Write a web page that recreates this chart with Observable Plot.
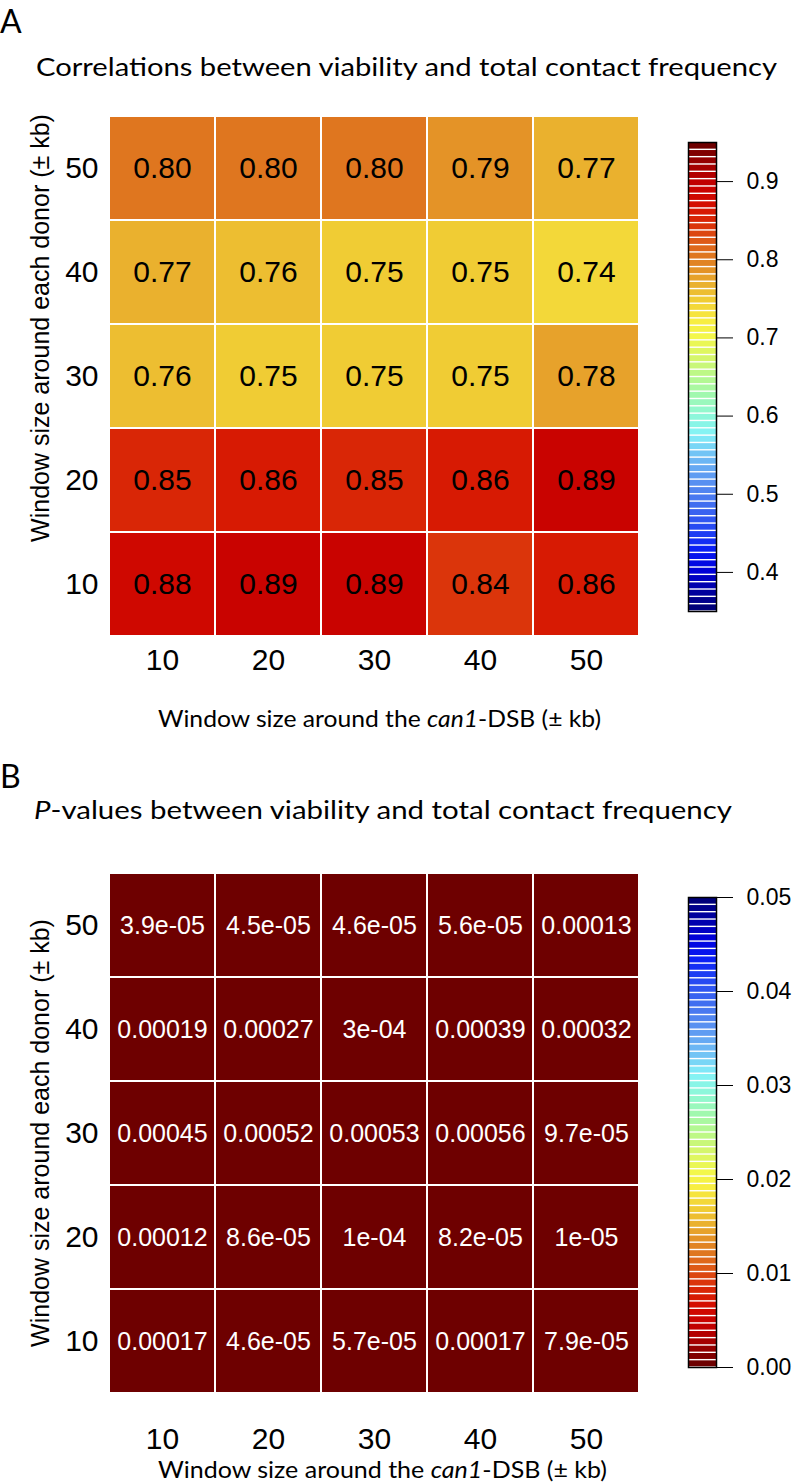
<!DOCTYPE html>
<html><head><meta charset="utf-8">
<script src="https://cdn.jsdelivr.net/npm/d3@7"></script>
<script src="https://cdn.jsdelivr.net/npm/@observablehq/plot@0.6"></script>
<style>
body{margin:0;background:#fff;}
#page{position:relative;width:799px;height:1484px;overflow:hidden;background:#fff;}
#page svg{position:absolute;}
</style></head><body><div id="page"></div>
<script>
// ---------- data ----------
const xWindows = [10, 20, 30, 40, 50];          // window around can1-DSB (± kb)
const yWindows = [50, 40, 30, 20, 10];          // window around each donor (± kb), top to bottom
const corrRows = {
  50: [0.80, 0.80, 0.80, 0.79, 0.77],
  40: [0.77, 0.76, 0.75, 0.75, 0.74],
  30: [0.76, 0.75, 0.75, 0.75, 0.78],
  20: [0.85, 0.86, 0.85, 0.86, 0.89],
  10: [0.88, 0.89, 0.89, 0.84, 0.86]
};
const pRows = {
  50: ["3.9e-05", "4.5e-05", "4.6e-05", "5.6e-05", "0.00013"],
  40: ["0.00019", "0.00027", "3e-04", "0.00039", "0.00032"],
  30: ["0.00045", "0.00052", "0.00053", "0.00056", "9.7e-05"],
  20: ["0.00012", "8.6e-05", "1e-04", "8.2e-05", "1e-05"],
  10: ["0.00017", "4.6e-05", "5.7e-05", "0.00017", "7.9e-05"]
};
const corrLegendDomain = [0.35, 0.95];
const corrLegendTicks = [0.4, 0.5, 0.6, 0.7, 0.8, 0.9];
const pLegendDomain = [0, 0.05];
const pLegendTicks = [0, 0.01, 0.02, 0.03, 0.04, 0.05];

// ---------- style ----------
const palette = ["#00007A","#0000A8","#0000DC","#0A1EF5","#2244F2","#3A64F0","#4F82F0","#62A0F2",
  "#72C4F5","#84F2F8","#8EF8D8","#A0F8B0","#B8F88C","#D6F66A","#F2F84C","#F8EC40","#F0CC34",
  "#E8A82C","#E08022","#DE5C18","#DA2C08","#D40C00","#C40000","#A00000","#6E0000"];
const nLevels = 64;
const sans = "'Liberation Sans', Arial, Helvetica, sans-serif";
const human = "Lato, 'Open Sans', sans-serif";

const interp = d3.piecewise(d3.interpolateRgb, palette);
const levels = d3.quantize(interp, nLevels);
function thresholdScale(domain, colors) {
  const [lo, hi] = domain, step = (hi - lo) / nLevels;
  return {type: "threshold", domain: d3.range(1, nLevels).map(i => lo + i * step), range: colors};
}
const corrColor = thresholdScale(corrLegendDomain, levels);
const pColor = thresholdScale(pLegendDomain, levels.slice().reverse());

const corrData = [], pData = [];
yWindows.forEach(y => xWindows.forEach((x, i) => {
  corrData.push({x, y, v: corrRows[y][i], label: d3.format(".2f")(corrRows[y][i])});
  pData.push({x, y, v: +pRows[y][i], label: pRows[y][i]});
}));

const page = document.getElementById("page");

function heat({top, height, mt, mb, data, color, textFill, textSize, xpad}) {
  const p = Plot.plot({
    width: 660, height,
    marginLeft: 108, marginRight: 21, marginTop: mt, marginBottom: mb,
    style: {fontFamily: sans, fontSize: "30px", background: "transparent", color: "black"},
    x: {type: "band", domain: xWindows, padding: 0, label: null, tickSize: 0, tickPadding: xpad},
    y: {type: "band", domain: yWindows, padding: 0, label: null, tickSize: 0, tickPadding: 10},
    color,
    marks: [
      Plot.cell(data, {x: "x", y: "y", fill: "v", stroke: "white", strokeWidth: 2}),
      Plot.text(data, {x: "x", y: "y", text: "label", fill: textFill, fontSize: textSize})
    ]
  });
  p.style.left = "0px"; p.style.top = top + "px";
  page.appendChild(p);
}

function legend({top, height, mt, mb, domain, color, ticks, fmt}) {
  const [lo, hi] = domain, step = (hi - lo) / nLevels;
  const bins = d3.range(nLevels).map(i => ({y1: lo + i * step, y2: lo + (i + 1) * step, mid: lo + (i + 0.5) * step}));
  const p = Plot.plot({
    width: 139, height,
    marginLeft: 28, marginRight: 83, marginTop: mt, marginBottom: mb,
    style: {fontFamily: sans, fontSize: "23px", background: "transparent", color: "black"},
    x: {domain: [0, 1], axis: null},
    y: {domain, axis: "right", ticks, tickFormat: fmt, tickSize: 16, tickPadding: 14, label: null},
    color,
    marks: [
      Plot.rect(bins, {x1: 0, x2: 1, y1: "y1", y2: "y2", fill: "mid", insetTop: 0.7, insetBottom: 0.7}),
      Plot.frame({stroke: "black", strokeWidth: 1.5})
    ]
  });
  p.style.left = "660px"; p.style.top = top + "px";
  page.appendChild(p);
}

heat({top: 0, height: 700, mt: 116, mb: 64, data: corrData, color: corrColor, textFill: "black", textSize: 30, xpad: 12});
legend({top: 0, height: 700, mt: 142, mb: 89, domain: corrLegendDomain, color: corrColor, ticks: corrLegendTicks, fmt: d3.format(".1f")});
heat({top: 760, height: 724, mt: 113, mb: 91, data: pData, color: pColor, textFill: "white", textSize: 25, xpad: 34});
legend({top: 760, height: 724, mt: 137, mb: 117, domain: pLegendDomain, color: pColor, ticks: pLegendTicks, fmt: d3.format(".2f")});

// ---------- titles & axis titles ----------
const ov = d3.select(page).append("svg").attr("width", 799).attr("height", 1484)
  .style("left", "0px").style("top", "0px").style("pointer-events", "none");
function txt(x, y, parts, {size, family = human, anchor = "start", length = null, rotate = false}) {
  const t = ov.append("text").attr("font-family", family).attr("font-size", size)
    .attr("text-anchor", anchor).attr("fill", "black");
  if (rotate) t.attr("transform", `translate(${x},${y}) rotate(-90)`);
  else t.attr("x", x).attr("y", y);
  if (length) t.attr("textLength", length).attr("lengthAdjust", "spacingAndGlyphs");
  parts.forEach(([s, it]) => t.append("tspan").attr("font-style", it ? "italic" : "normal").text(s));
}
txt(0, 33, [["A"]], {size: 32});
txt(36, 76, [["Correlations between viability and total contact frequency"]], {size: 25, length: 741});
txt(158, 727, [["Window size around the "], ["can1", true], ["-DSB (± kb)"]], {size: 23, length: 443});
txt(49, 328, [["Window size around each donor (± kb)"]], {size: 25, family: sans, anchor: "middle", rotate: true});

txt(0, 788, [["B"]], {size: 32});
txt(34, 819, [["P", true], ["-values between viability and total contact frequency"]], {size: 25, length: 698});
txt(158, 1478, [["Window size around the "], ["can1", true], ["-DSB (± kb)"]], {size: 23, length: 449});
txt(49, 1133, [["Window size around each donor (± kb)"]], {size: 25, family: sans, anchor: "middle", rotate: true});
</script>
</body></html>
